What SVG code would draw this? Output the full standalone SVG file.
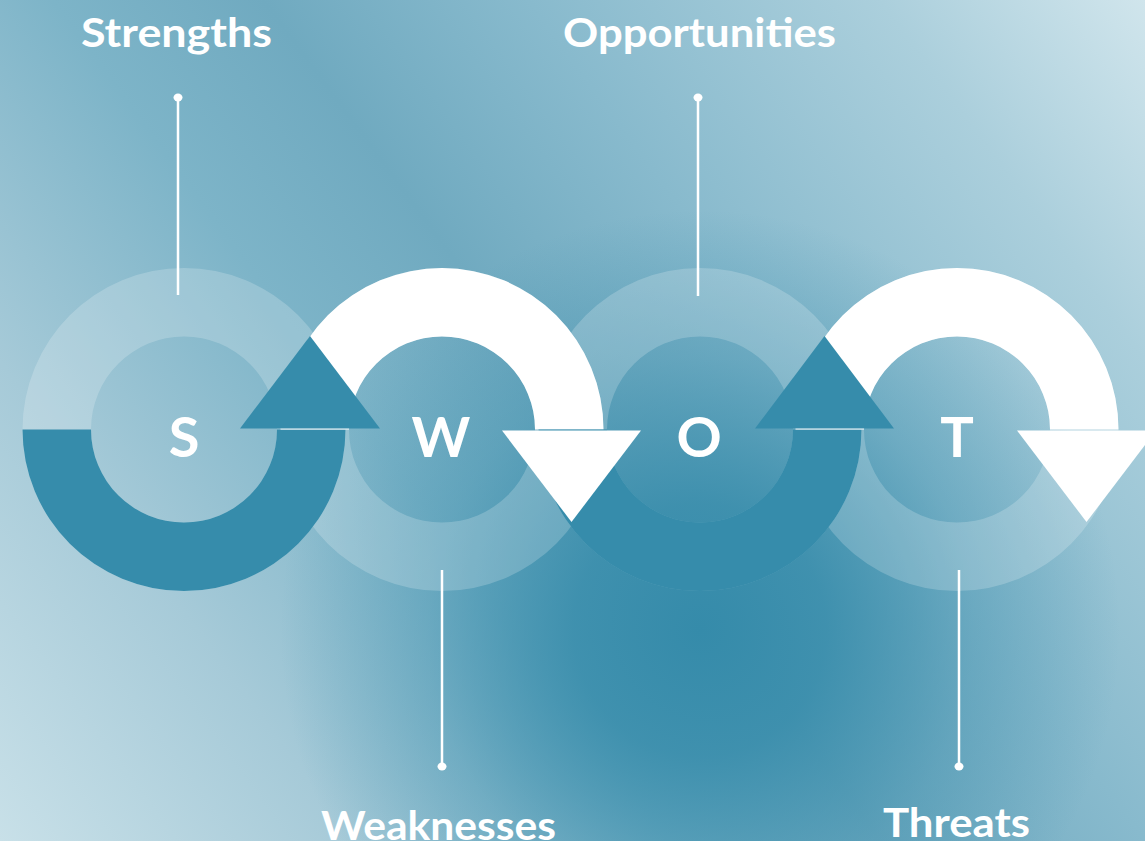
<svg xmlns="http://www.w3.org/2000/svg" width="1145" height="841" viewBox="0 0 1145 841">
  <defs>
    <linearGradient id="bgLin" gradientUnits="userSpaceOnUse" x1="0" y1="841" x2="1145" y2="0">
      <stop offset="0" stop-color="#C8E0E8"/>
      <stop offset="0.2" stop-color="#A6CAD8"/>
      <stop offset="0.38" stop-color="#7DB4C8"/>
      <stop offset="0.5" stop-color="#70AAC0"/>
      <stop offset="0.65" stop-color="#88BACD"/>
      <stop offset="0.85" stop-color="#ABCFDC"/>
      <stop offset="1" stop-color="#D0E5EC"/>
    </linearGradient>
    <radialGradient id="bgRad" gradientUnits="userSpaceOnUse" cx="700" cy="630" r="420">
      <stop offset="0" stop-color="#358BAA" stop-opacity="1"/>
      <stop offset="0.3" stop-color="#358BAA" stop-opacity="0.85"/>
      <stop offset="0.65" stop-color="#358BAA" stop-opacity="0.35"/>
      <stop offset="1" stop-color="#358BAA" stop-opacity="0"/>
    </radialGradient>
    <style>
      .ring { fill: #FFFFFF; fill-opacity: 0.2; fill-rule: evenodd; }
      .teal { fill: #368CAB; }
      .white { fill: #FFFFFF; }
      .letter { font-family: "Lato", "Liberation Sans", sans-serif; font-weight: 700; font-size: 56px; fill: #FFFFFF; text-anchor: middle; }
      .label { font-family: "Lato", "Liberation Sans", sans-serif; font-weight: 700; font-size: 40px; fill: #FFFFFF; text-anchor: middle; }
      .conn { stroke: #FFFFFF; stroke-width: 2.5; fill: none; }
      .dot { fill: #FFFFFF; }
    </style>
  </defs>

  <rect x="0" y="0" width="1145" height="841" fill="url(#bgLin)"/>
  <rect x="0" y="0" width="1145" height="841" fill="url(#bgRad)"/>

  <g id="rings">
    <path class="ring" d="M22.5,429.5 a161.5,161.5 0 1,0 323,0 a161.5,161.5 0 1,0 -323,0 Z M91,429.5 a93,93 0 1,0 186,0 a93,93 0 1,0 -186,0 Z"/>
    <path class="ring" d="M280.5,429.5 a161.5,161.5 0 1,0 323,0 a161.5,161.5 0 1,0 -323,0 Z M349,429.5 a93,93 0 1,0 186,0 a93,93 0 1,0 -186,0 Z"/>
    <path class="ring" d="M538.5,429.5 a161.5,161.5 0 1,0 323,0 a161.5,161.5 0 1,0 -323,0 Z M607,429.5 a93,93 0 1,0 186,0 a93,93 0 1,0 -186,0 Z"/>
    <path class="ring" d="M795.5,429.5 a161.5,161.5 0 1,0 323,0 a161.5,161.5 0 1,0 -323,0 Z M864,429.5 a93,93 0 1,0 186,0 a93,93 0 1,0 -186,0 Z"/>
  </g>

  <g id="node-S">
    <path class="teal" d="M22.5,429.5 A161.5,161.5 0 0,0 345.5,429.5 L277,429.5 A93,93 0 0,1 91,429.5 Z"/>
    <text class="letter" x="184" y="457">S</text>
  </g>
  <g id="node-W">
    <path class="white" d="M280.5,429.5 A161.5,161.5 0 0,1 603.5,429.5 L535,429.5 A93,93 0 0,0 349,429.5 Z"/>
    <text class="letter" x="441" y="457">W</text>
  </g>
  <g id="node-O">
    <path class="teal" d="M538.5,429.5 A161.5,161.5 0 0,0 861.5,429.5 L793,429.5 A93,93 0 0,1 607,429.5 Z"/>
    <text class="letter" x="699" y="457">O</text>
  </g>
  <g id="node-T">
    <path class="white" d="M795.5,429.5 A161.5,161.5 0 0,1 1118.5,429.5 L1050,429.5 A93,93 0 0,0 864,429.5 Z"/>
    <text class="letter" x="957" y="457">T</text>
  </g>

  <g id="arrowheads">
    <polygon class="teal" points="240,428.5 380,428.5 310,336"/>
    <polygon class="white" points="502,430.5 641,430.5 571.5,522"/>
    <polygon class="teal" points="755,428.5 894,428.5 824.5,336"/>
    <polygon class="white" points="1017,430.5 1156,430.5 1086.5,522"/>
  </g>

  <g id="connectors">
    <line class="conn" x1="178" y1="97" x2="178" y2="295"/>
    <ellipse class="dot" cx="178" cy="97.5" rx="4.5" ry="4"/>
    <line class="conn" x1="698" y1="97" x2="698" y2="296"/>
    <ellipse class="dot" cx="698" cy="97.5" rx="4.5" ry="4"/>
    <line class="conn" x1="442" y1="570" x2="442" y2="766"/>
    <ellipse class="dot" cx="442" cy="766.5" rx="4.5" ry="4"/>
    <line class="conn" x1="959" y1="570" x2="959" y2="766"/>
    <ellipse class="dot" cx="959" cy="766.5" rx="4.5" ry="4"/>
  </g>

  <g id="labels">
    <text class="label" x="176.5" y="47" textLength="191" lengthAdjust="spacingAndGlyphs">Strengths</text>
    <text class="label" x="699.5" y="47" textLength="273" lengthAdjust="spacingAndGlyphs">Opportunities</text>
    <text class="label" x="438.5" y="839.5" textLength="235" lengthAdjust="spacingAndGlyphs">Weaknesses</text>
    <text class="label" x="956.5" y="837" textLength="147" lengthAdjust="spacingAndGlyphs">Threats</text>
  </g>
</svg>
